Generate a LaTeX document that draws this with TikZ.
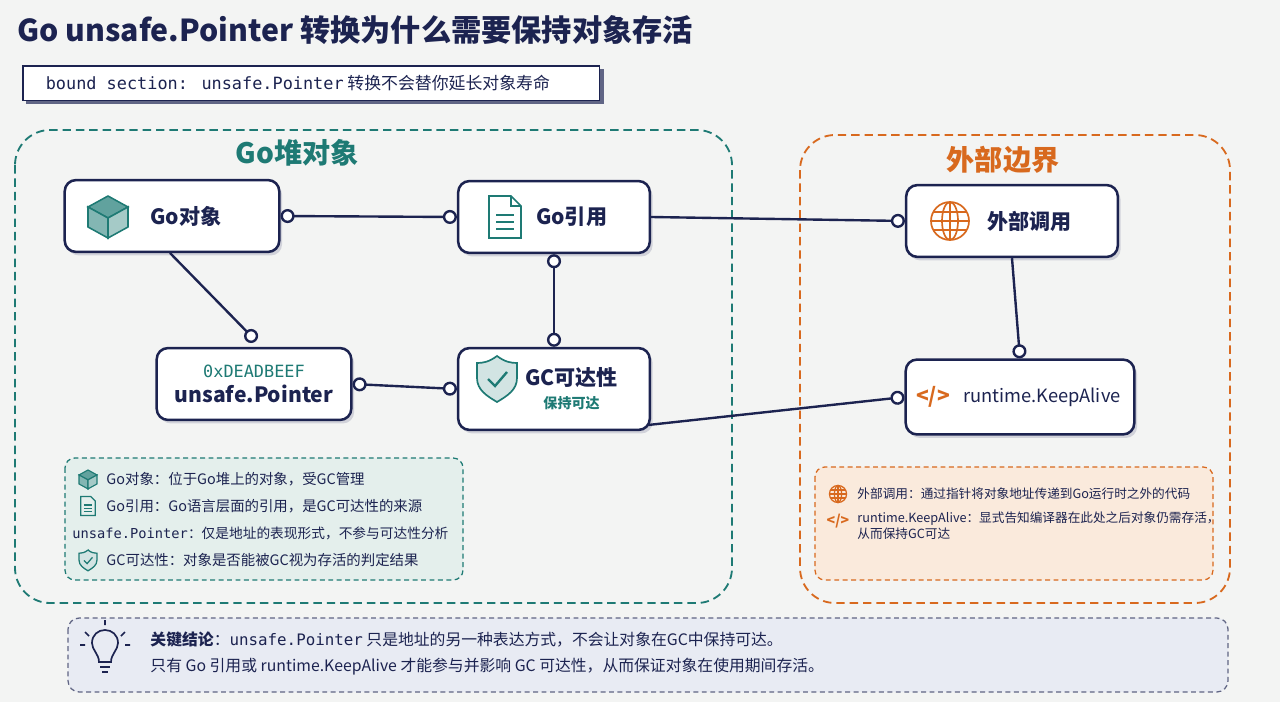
\documentclass[tikz,border=0pt]{standalone}
\usepackage{fontspec}
\setmainfont{Noto Sans CJK SC}
\newfontfamily\monofont{DejaVu Sans Mono}
\usetikzlibrary{arrows.meta,shadows}
\definecolor{navy}{HTML}{1C2350}
\definecolor{tealc}{HTML}{1E7A74}
\definecolor{orangec}{HTML}{D8691E}
\definecolor{bgc}{HTML}{F3F4F3}
\definecolor{tealbg}{HTML}{E4EFEC}
\definecolor{orbg}{HTML}{FAEADC}
\definecolor{navybg}{HTML}{E8EBF3}
\newcommand{\fs}[1]{\fontsize{#1pt}{\dimexpr#1pt*13/10\relax}\selectfont}
\tikzset{
  box/.style={draw=navy, line width=3.6pt, rounded corners=16pt, fill=white,
    minimum height=72*1.42pt, text=navy, font=\fs{30}\bfseries,
    drop shadow={shadow xshift=4pt, shadow yshift=-5pt, fill=navy!35}},
  link/.style={draw=navy, line width=3.4pt, {Circle[open,fill=white,length=20pt,width=20pt]}-{Circle[open,fill=white,length=20pt,width=20pt]}},
  linkb/.style={draw=navy, line width=3.4pt, -{Circle[open,fill=white,length=20pt,width=20pt]}},
  group/.style={dash pattern=on 12pt off 7pt, line width=2.6pt, rounded corners=50pt},
  legend/.style={dash pattern=on 7pt off 5pt, line width=1.8pt, rounded corners=14pt},
  ltext/.style={anchor=west, text=navy, font=\fs{20.5}}
}
\begin{document}
\begin{tikzpicture}[x=0.05cm, y=-0.05cm]
\fill[bgc] (0,0) rectangle (1280,702);
\useasboundingbox (0,0) rectangle (1280,702);

% title and section tag
\node[anchor=west, text=navy, font=\fs{43}\bfseries] (title) at (15,30) {Go unsafe.Pointer 转换为什么需要保持对象存活};
\fill[navy!70] (26,69) rectangle (604,104);
\node[draw=navy, line width=2.2pt, fill=white, minimum width=578*1.42pt, minimum height=35*1.42pt,
  anchor=north west, text=navy, font=\fs{24}, align=left] (tag) at (22,65)
  {\hspace*{14pt}{\monofont bound section: unsafe.Pointer} 转换不会替你延长对象寿命\hspace*{52pt}};

% groups
\draw[group, draw=tealc] (15,130) rectangle (732,603);
\node[text=tealc, font=\fs{40}\bfseries] (heap) at (297,153) {Go堆对象};
\draw[group, draw=orangec] (800,135) rectangle (1230,603);
\node[text=orangec, font=\fs{40}\bfseries] (ext) at (1003,160) {外部边界};

% nodes
\node[box, minimum width=215*1.42pt] (obj) at (172,216) {\hspace*{40pt}Go对象};
\node[box, minimum width=192*1.42pt] (ref) at (554,217) {\hspace*{50pt}Go引用};
\node[box, minimum width=212*1.42pt] (call) at (1012,221) {\hspace*{50pt}外部调用};
\node[box, minimum width=195*1.42pt, align=center] (ptr) at (254,384)
  {{\monofont\mdseries\color{tealc}\fs{24}0xDEADBEEF}\\[-4pt]unsafe.Pointer};
\node[box, minimum width=192*1.42pt, minimum height=82*1.42pt, align=center] (gc) at (554,389)
  {\hspace*{50pt}GC可达性\\[-6pt]\hspace*{50pt}{\color{tealc}\fs{20}保持可达}};
\node[box, minimum width=229*1.42pt, minimum height=75*1.42pt] (keep) at (1020,397) {\hspace*{62pt}\mdseries\fs{26}runtime.KeepAlive};

% icons
\begin{scope}[shift={(108,216)}, line width=2.2pt, draw=tealc]
  \filldraw[fill=tealc!70] (-20,-9) -- (0,-20) -- (20,-9) -- (0,2) -- cycle;
  \filldraw[fill=tealc!55] (-20,-9) -- (0,2) -- (0,22) -- (-20,11) -- cycle;
  \filldraw[fill=tealc!40] (20,-9) -- (0,2) -- (0,22) -- (20,11) -- cycle;
\end{scope}
\begin{scope}[shift={(505,217)}, line width=2.4pt, tealc]
  \draw (-16,-21) -- (6,-21) -- (16,-11) -- (16,21) -- (-16,21) -- cycle;
  \draw (6,-21) -- (6,-11) -- (16,-11);
  \foreach \yy in {-2,5,12} \draw (-9,\yy) -- (9,\yy);
\end{scope}
\begin{scope}[shift={(497,378)}, line width=2.4pt, tealc]
  \filldraw[fill=tealc!20] (0,-22) .. controls (8,-16) and (14,-15) .. (20,-15) -- (20,0)
    .. controls (20,12) and (10,18) .. (0,24) .. controls (-10,18) and (-20,12) .. (-20,0) -- (-20,-15)
    .. controls (-14,-15) and (-8,-16) .. cycle;
  \draw[line width=3.4pt] (-9,1) -- (-2,8) -- (10,-6);
\end{scope}
\begin{scope}[shift={(950,221)}, line width=2.4pt, orangec]
  \draw (0,0) circle (19);
  \draw (0,0) ellipse (8 and 19);
  \draw (-19,0) -- (19,0) (-16,-9) -- (16,-9) (-16,9) -- (16,9) (0,-19) -- (0,19);
\end{scope}
\node[text=orangec, font=\fs{30}\bfseries] (codeicon) at (933,397) {</>};

% connectors
\draw[link] (obj.east) -- (ref.west);
\draw[linkb] (ref.east) -- (call.west);
\coordinate (o1) at (170,253);
\coordinate (o2) at (256,341);
\draw[linkb] (o1) -- (o2);
\draw[link] (ref.south) -- (gc.north);
\draw[link] (ptr.east) -- (gc.west);
\coordinate (gcse) at (648,425);
\draw[linkb] (gcse) -- (keep.west);
\draw[linkb] (call.south) -- (keep.north);

% legends
\draw[legend, draw=tealc, fill=tealbg] (65,458) rectangle (463,580);
\begin{scope}[shift={(88,479)}, scale=0.45, line width=1.6pt, draw=tealc]
  \filldraw[fill=tealc!70] (-20,-9) -- (0,-20) -- (20,-9) -- (0,2) -- cycle;
  \filldraw[fill=tealc!55] (-20,-9) -- (0,2) -- (0,22) -- (-20,11) -- cycle;
  \filldraw[fill=tealc!40] (20,-9) -- (0,2) -- (0,22) -- (20,11) -- cycle;
\end{scope}
\node[ltext] (l1) at (104,479) {Go对象：位于Go堆上的对象，受GC管理};
\begin{scope}[shift={(88,506)}, scale=0.45, line width=1.8pt, tealc]
  \draw (-16,-21) -- (6,-21) -- (16,-11) -- (16,21) -- (-16,21) -- cycle;
  \foreach \yy in {-2,5,12} \draw (-9,\yy) -- (9,\yy);
\end{scope}
\node[ltext] (l2) at (104,506) {Go引用：Go语言层面的引用，是GC可达性的来源};
\node[ltext, font=\fs{19.5}] (l3) at (70,533) {{\monofont unsafe.Pointer}：仅是地址的表现形式，不参与可达性分析};
\begin{scope}[shift={(88,560)}, scale=0.45, line width=1.8pt, tealc]
  \filldraw[fill=tealc!20] (0,-22) .. controls (8,-16) and (14,-15) .. (20,-15) -- (20,0)
    .. controls (20,12) and (10,18) .. (0,24) .. controls (-10,18) and (-20,12) .. (-20,0) -- (-20,-15)
    .. controls (-14,-15) and (-8,-16) .. cycle;
  \draw (-9,1) -- (-2,8) -- (10,-6);
\end{scope}
\node[ltext] (l4) at (104,560) {GC可达性：对象是否能被GC视为存活的判定结果};

\draw[legend, draw=orangec, fill=orbg] (815,467) rectangle (1213,580);
\begin{scope}[shift={(838,494)}, scale=0.45, line width=1.8pt, orangec]
  \draw (0,0) circle (19);
  \draw (0,0) ellipse (8 and 19);
  \draw (-19,0) -- (19,0) (-16,-9) -- (16,-9) (-16,9) -- (16,9) (0,-19) -- (0,19);
\end{scope}
\node[ltext, font=\fs{18}] (r1) at (855,494) {外部调用：通过指针将对象地址传递到Go运行时之外的代码};
\node[text=orangec, font=\fs{20}\bfseries] (r2i) at (838,521) {</>};
\node[ltext, font=\fs{18}, align=left, anchor=north west] (r2) at (855,509) {runtime.KeepAlive：显式告知编译器在此处之后对象仍需存活，\\从而保持GC可达};

% conclusion
\draw[legend, draw=navy!70, fill=navybg, rounded corners=16pt] (68,618) rectangle (1228,692);
\begin{scope}[shift={(105,650)}, line width=2.4pt, navy]
  \draw (-6,12) .. controls (-6,4) and (-13,0) .. (-13,-7) .. controls (-13,-15) and (-7,-20) .. (0,-20)
    .. controls (7,-20) and (13,-15) .. (13,-7) .. controls (13,0) and (6,4) .. (6,12) -- cycle;
  \draw (-5,17) -- (5,17) (-3,22) -- (3,22);
  \draw (-20,-18) -- (-16,-14) (20,-18) -- (16,-14) (0,-30) -- (0,-25) (-25,-5) -- (-20,-5) (25,-5) -- (20,-5);
\end{scope}
\node[ltext, font=\fs{22.5}] (c1) at (148,640) {\textbf{关键结论}：{\monofont unsafe.Pointer} 只是地址的另一种表达方式，不会让对象在GC中保持可达。};
\node[ltext, font=\fs{22.5}] (c2) at (148,667) {只有 Go 引用或 runtime.KeepAlive 才能参与并影响 GC 可达性，从而保证对象在使用期间存活。};
\end{tikzpicture}
\end{document}
